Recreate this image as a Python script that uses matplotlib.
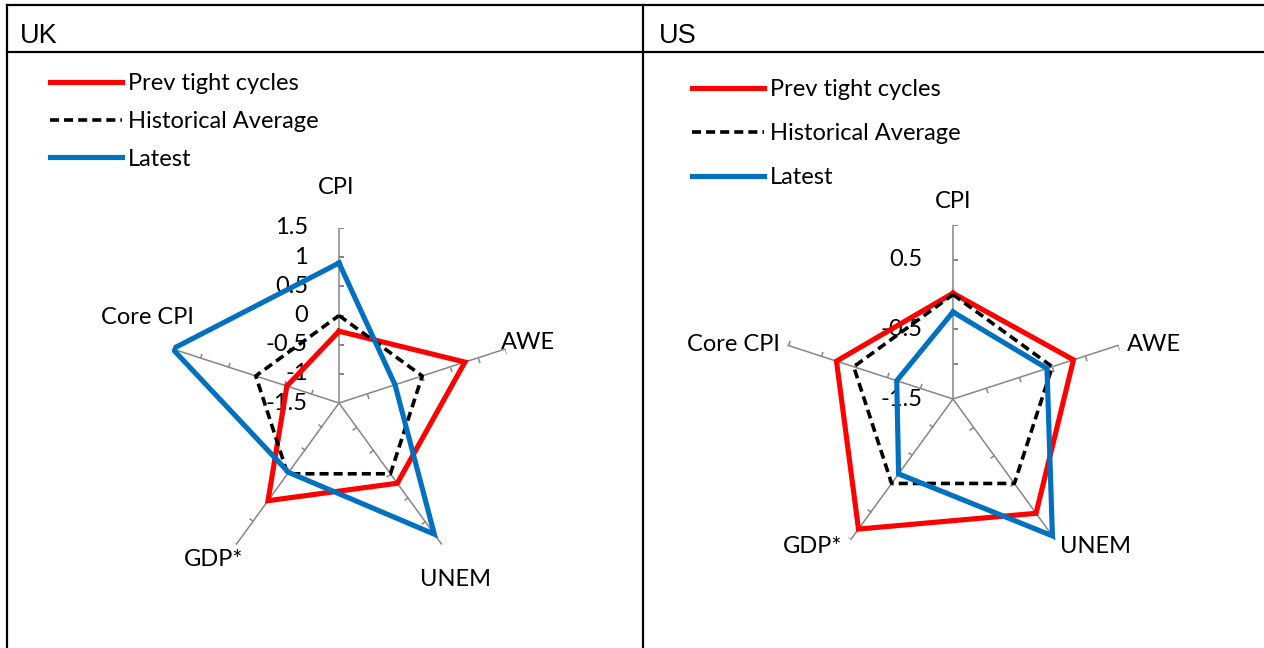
import numpy as np
import matplotlib.pyplot as plt
from matplotlib.lines import Line2D
from matplotlib.markers import MarkerStyle
from matplotlib.path import Path
from matplotlib.transforms import Affine2D

categories = ["CPI", "AWE", "UNEM", "GDP*", "Core CPI"]
series_names = ["Prev tight cycles", "Historical Average", "Latest"]

uk_prev = [-0.27, 0.77, 0.20, 0.57, -0.56]
uk_hist = [0.0, 0.0, 0.0, 0.0, 0.0]
uk_latest = [0.90, -0.49, 1.28, -0.03, 1.50]

us_prev = [0.02, 0.32, 0.53, 0.81, 0.26]
us_hist = [0.0, 0.0, 0.0, 0.0, 0.0]
us_latest = [-0.25, -0.08, 0.93, -0.17, -0.65]

uk_ticks = [-1.0, -0.5, 0.0, 0.5, 1.0, 1.5]
uk_labels = ["-1.5", "-1", "-0.5", "0", "0.5", "1", "1.5"]
uk_label_vals = [-1.5, -1.0, -0.5, 0.0, 0.5, 1.0, 1.5]
us_ticks = [-1.0, -0.5, 0.0, 0.5, 1.0]
us_labels = ["-1.5", "-0.5", "0.5"]
us_label_vals = [-1.5, -0.5, 0.5]

W, H = 1264, 648
fig = plt.figure(figsize=(W / 100, H / 100), dpi=100)
chart_font = "Lato"
fs = 17

colors = ["#FF0000", "#000000", "#0070C0"]
GRAY = "#868686"


def px(v):
    # pixels -> points at 100 dpi
    return v * 0.72


def radar(cx, cy, r, rmin, rmax, series, ticks, lab_vals, labs, cat_offsets,
          leg_xy, leg_spacing):
    ax = fig.add_axes([(cx - r) / W, (H - cy - r) / H, 2 * r / W, 2 * r / H],
                      projection="polar")
    ax.set_theta_offset(np.pi / 2)
    ax.set_theta_direction(-1)
    ax.set_ylim(rmin, rmax)
    ax.set_xticks([])
    ax.set_yticks([])
    ax.grid(False)
    ax.spines["polar"].set_visible(False)
    ax.patch.set_visible(False)

    theta = np.linspace(0, 2 * np.pi, len(categories), endpoint=False)

    # spokes with one-sided tick marks
    for t in theta:
        ax.plot([t, t], [rmin, rmax], color=GRAY, lw=1.1, zorder=1)
        ang = 90 - np.degrees(t) - 90
        mk = MarkerStyle(Path([(0, 0), (1, 0)]),
                         transform=Affine2D().rotate_deg(ang))
        ax.plot([t] * len(ticks), ticks, ls="none", marker=mk, ms=7,
                mew=1.1, mec=GRAY, zorder=1)

    handles = []
    for vals, c, name in zip(series, colors, series_names):
        v = list(vals) + [vals[0]]
        tt = list(theta) + [theta[0]]
        if c == "#000000":
            ln, = ax.plot(tt, v, color=c, lw=2.6, ls="--", dashes=(2.5, 1.4),
                          label=name, zorder=3)
        else:
            ln, = ax.plot(tt, v, color=c, lw=3.7, label=name, zorder=3,
                          solid_joinstyle="miter")
        handles.append(ln)

    for val, s in zip(lab_vals, labs):
        ax.annotate(s, xy=(0, val), xytext=(px(-31), 0),
                    textcoords="offset points", ha="right", va="center",
                    fontsize=fs, family=chart_font, zorder=2)

    for t, name, (dx, dy, ha) in zip(theta, categories, cat_offsets):
        ax.annotate(name, xy=(t, rmax), xytext=(px(dx), px(dy)),
                    textcoords="offset points", ha=ha, va="center",
                    fontsize=fs, family=chart_font)

    fig.legend(handles=handles, loc="upper left",
               bbox_to_anchor=(leg_xy[0] / W, 1 - leg_xy[1] / H),
               frameon=False, borderpad=0, borderaxespad=0,
               handlelength=3.05, handletextpad=0.25, labelspacing=leg_spacing,
               prop={"family": chart_font, "size": fs})
    return ax


uk_offsets = [(-3, 41, "center"), (-5, 6, "left"), (14, -35, "center"),
              (-23, -15, "center"), (-25, 31, "center")]
us_offsets = [(0, 24, "center"), (8, 1, "left"), (5, -7, "left"),
              (-8, -7, "right"), (-8, 1, "right")]

radar(339, 403, 175, -1.5, 1.5, [uk_prev, uk_hist, uk_latest], uk_ticks,
      uk_label_vals, uk_labels, uk_offsets, (50, 73), 0.71)
radar(953, 399, 174, -1.5, 1.0, [us_prev, us_hist, us_latest], us_ticks,
      us_label_vals, us_labels, us_offsets, (692, 79), 0.97)

# table frame
for (x0, y0, x1, y1) in [(7, 5, W, 5), (7, 52, W, 52), (7, 5, 7, H),
                         (643, 5, 643, H)]:
    fig.add_artist(Line2D([x0 / W, x1 / W], [1 - y0 / H, 1 - y1 / H],
                          color="black", lw=1.6))

fig.text(20 / W, 1 - 36 / H, "UK", va="center", ha="left", fontsize=19.5,
         family="Liberation Sans")
fig.text(659 / W, 1 - 36 / H, "US", va="center", ha="left", fontsize=19.5,
         family="Liberation Sans")

fig.savefig("out.png", dpi=100)
